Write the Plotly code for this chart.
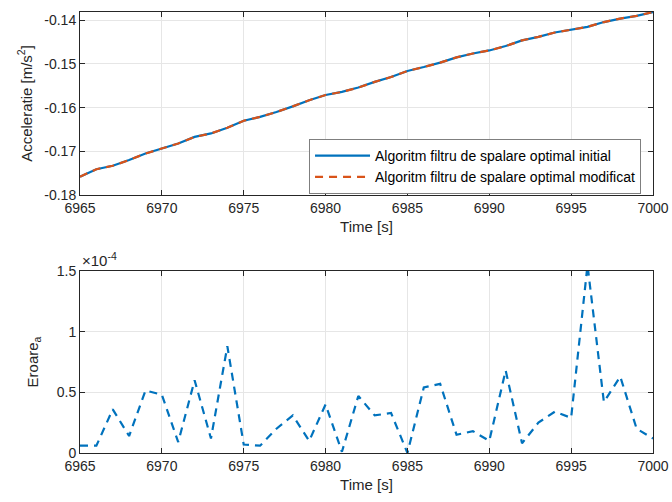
import numpy as np
import plotly.graph_objects as go

time_s = list(range(6965, 7001))

accel_initial = [-0.1758, -0.1741, -0.1733, -0.1720, -0.1705, -0.1694, -0.1682, -0.1667,
                 -0.1659, -0.1646, -0.1630, -0.1621, -0.1610, -0.1597, -0.1583, -0.1571,
                 -0.1564, -0.1554, -0.1541, -0.1530, -0.1516, -0.1507, -0.1497, -0.1485,
                 -0.1476, -0.1469, -0.1459, -0.1446, -0.1438, -0.1428, -0.1421, -0.1415,
                 -0.1404, -0.1396, -0.1390, -0.1381]
accel_modified = list(accel_initial)

# error values in units of 1e-4
error_e4 = [0.06, 0.06, 0.36, 0.14, 0.515, 0.48, 0.09, 0.60, 0.12, 0.88, 0.07, 0.06,
            0.20, 0.31, 0.10, 0.40, 0.01, 0.47, 0.31, 0.33, 0.0, 0.54, 0.57, 0.15,
            0.18, 0.10, 0.68, 0.08, 0.25, 0.34, 0.29, 1.55, 0.42, 0.63, 0.20, 0.12]
error_vals = [v * 1e-4 for v in error_e4]

x_ticks = [6965, 6970, 6975, 6980, 6985, 6990, 6995, 7000]
y1_ticks = [-0.18, -0.17, -0.16, -0.15, -0.14]
y2_ticks_e4 = [0, 0.5, 1, 1.5]

BLUE = "#0072BD"
ORANGE = "#D95319"
AX = "#262626"
GRID = "#e6e6e6"
FONT = "Liberation Sans, Arial, sans-serif"

fig = go.Figure()
fig.add_trace(go.Scatter(x=time_s, y=accel_initial, mode="lines",
                         line=dict(color=BLUE, width=2.2),
                         name="Algoritm filtru de spalare optimal initial",
                         xaxis="x", yaxis="y"))
fig.add_trace(go.Scatter(x=time_s, y=accel_modified, mode="lines",
                         line=dict(color=ORANGE, width=2.2, dash="8px,6px"),
                         name="Algoritm filtru de spalare optimal modificat",
                         xaxis="x", yaxis="y"))
fig.add_trace(go.Scatter(x=time_s, y=error_vals, mode="lines",
                         line=dict(color=BLUE, width=2.2, dash="8px,6px"),
                         showlegend=False, xaxis="x2", yaxis="y2"))

axis_common = dict(showline=True, linecolor=AX, linewidth=1, mirror="ticks",
                   ticks="inside", ticklen=5, tickcolor=AX, showgrid=True,
                   gridcolor=GRID, gridwidth=1, zeroline=False, automargin=False,
                   tickfont=dict(family=FONT, size=14, color=AX))

fig.update_layout(
    width=672, height=502,
    margin=dict(l=80, r=19, t=12, b=49),
    paper_bgcolor="white", plot_bgcolor="white",
    font=dict(family=FONT, color=AX),
    xaxis=dict(domain=[0, 1], range=[6965, 7000], tickvals=x_ticks, anchor="y",
               title=dict(text="Time [s]", font=dict(size=15, color=AX), standoff=6),
               **axis_common),
    yaxis=dict(domain=[0.585, 1.0], range=[-0.18, -0.1381], tickvals=y1_ticks,
               ticktext=["-0.18", "-0.17", "-0.16", "-0.15", "-0.14"], anchor="x",
               title=dict(text="Acceleratie [m/s<sup>2</sup>]", font=dict(size=15, color=AX), standoff=8),
               **axis_common),
    xaxis2=dict(domain=[0, 1], range=[6965, 7000], tickvals=x_ticks, anchor="y2",
                title=dict(text="Time [s]", font=dict(size=15, color=AX), standoff=6),
                **axis_common),
    yaxis2=dict(domain=[0, 0.4127], range=[0, 1.5e-4],
                tickvals=[v * 1e-4 for v in y2_ticks_e4],
                ticktext=["0", "0.5", "1", "1.5"], anchor="x2",
                title=dict(text="Eroare<sub>a</sub>", font=dict(size=15, color=AX), standoff=14),
                **axis_common),
    legend=dict(x=0.3997, y=0.712, xanchor="left", yanchor="top",
                bgcolor="white", bordercolor="#7f7f7f", borderwidth=1,
                font=dict(family=FONT, size=14, color="black"),
                tracegroupgap=0, itemwidth=55),
    annotations=[dict(text="\u00d710<sup>-4</sup>", xref="paper", yref="paper",
                      x=0.0, y=0.4127, xanchor="left", yanchor="bottom",
                      showarrow=False, font=dict(family=FONT, size=15, color=AX))],
)

fig.write_html("out.html", config={"displayModeBar": False},
               post_script="document.body.style.margin='0';")
